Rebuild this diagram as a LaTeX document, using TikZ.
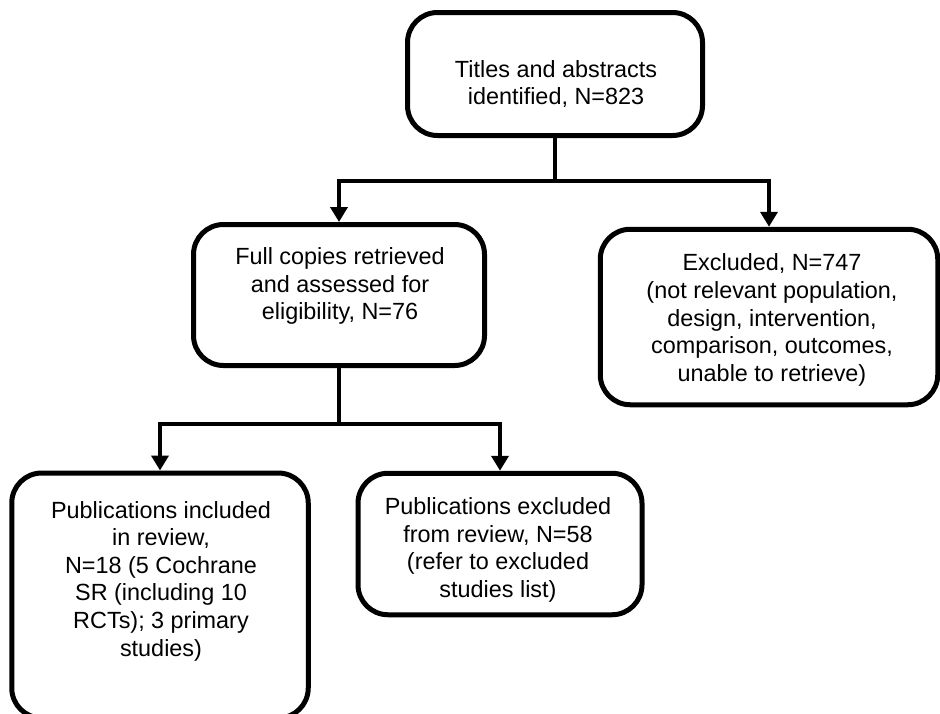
\documentclass[tikz,border=0pt]{standalone}
\usepackage{fontspec}
\setmainfont{Liberation Sans}
\usetikzlibrary{positioning, arrows.meta}

\begin{document}
\begin{tikzpicture}[x=0.5pt, y=-0.5pt,
        stage/.style={draw, line width=2.5pt, rounded corners=15pt, inner sep=0pt},
        txt/.style={align=center, font=\fontsize{11.7}{13.8}\selectfont},
        link/.style={line width=2pt},
        arr/.style={link, -{Triangle[width=8.5pt, length=7.5pt]}}]
        \useasboundingbox (0,0) rectangle (940,713);
        % boxes
        \node[stage, minimum width=147.5pt, minimum height=61.5pt] (titles) at (555,74) {};
        \node[stage, minimum width=145.5pt, minimum height=70.5pt] (full) at (339,295) {};
        \node[stage, minimum width=168.75pt, minimum height=87.75pt] (excl) at (769,317) {};
        \node[stage, minimum width=148.25pt, minimum height=122.5pt] (incl) at (160,595.5) {};
        \node[stage, minimum width=142pt, minimum height=70.75pt] (pubex) at (500,544) {};
        % texts
        \node[txt] (titles-t) at (556,84) {Titles and abstracts\\identified, N=823};
        \node[txt] (full-t) at (340,286) {Full copies retrieved\\and assessed for\\eligibility, N=76};
        \node[txt] (excl-t) at (772,320) {Excluded, N=747\\(not relevant population,\\design, intervention,\\comparison, outcomes,\\unable to retrieve)};
        \node[txt] (incl-t) at (161,581) {Publications included\\in review,\\N=18 (5 Cochrane\\SR (including 10\\RCTs); 3 primary\\studies)};
        \node[txt] (pubex-t) at (498,550) {Publications excluded\\from review, N=58\\(refer to excluded\\studies list)};
        % connectors
        \coordinate (split-a) at (555,181);
        \coordinate (split-b) at (339,424);
        \draw[link] (titles.south) -- (split-a);
        \draw[arr] (split-a) -| (full.north);
        \draw[arr] (split-a) -| (excl.north);
        \draw[link] (full.south) -- (split-b);
        \draw[arr] (split-b) -| (incl.north);
        \draw[arr] (split-b) -| (pubex.north);
    \end{tikzpicture}
\end{document}
